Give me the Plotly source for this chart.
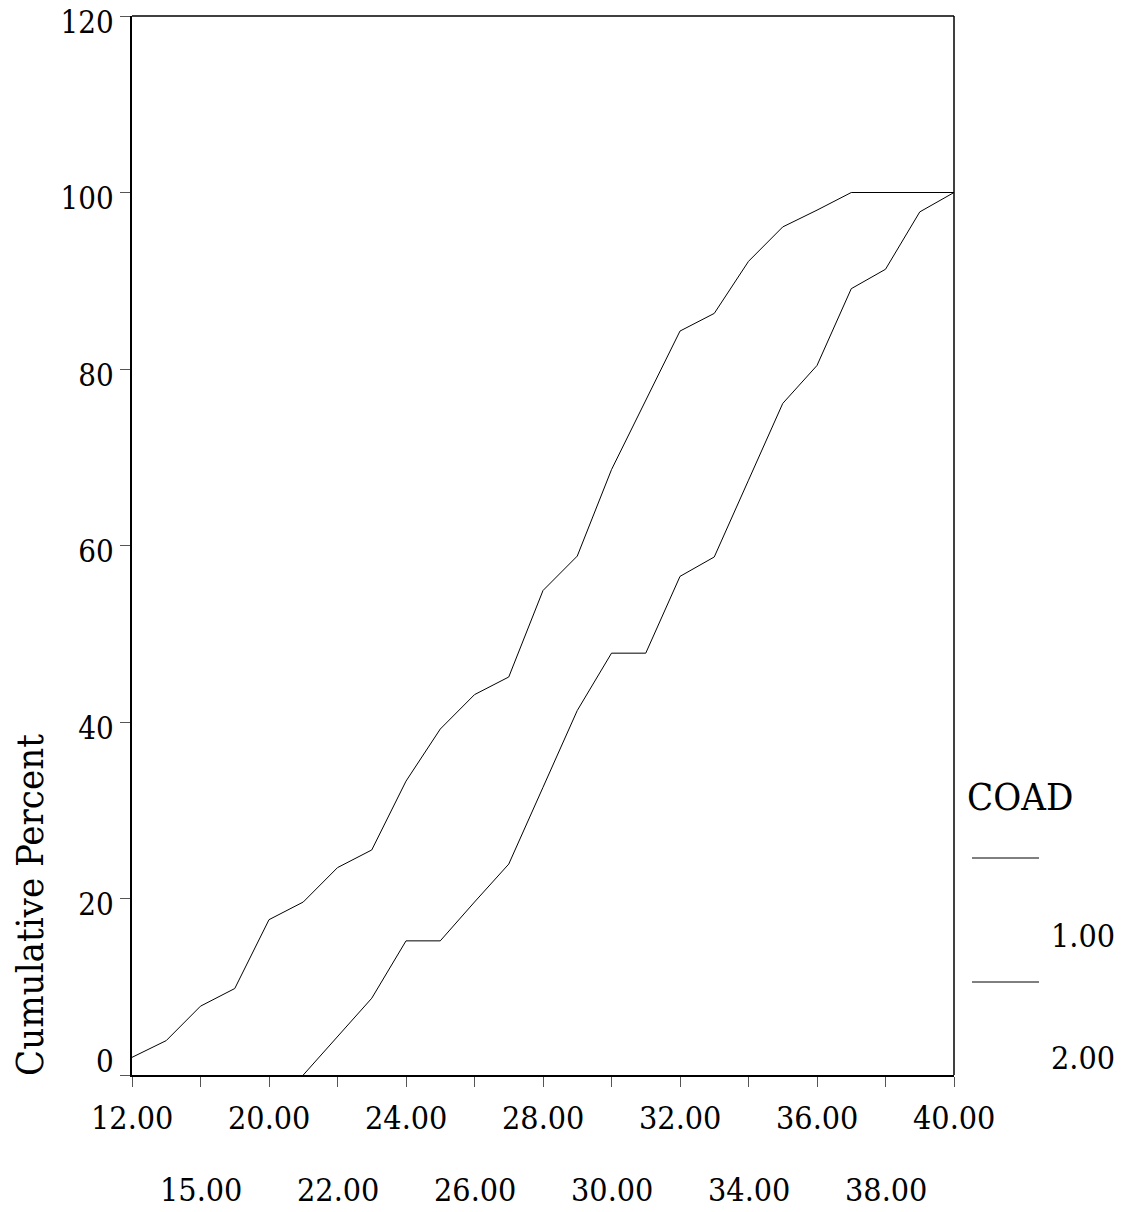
import plotly.graph_objects as go

# Age categories (COAD groups share the same x categories)
categories = ["12.00", "13.00", "15.00", "18.00", "20.00", "21.00", "22.00", "23.00",
              "24.00", "25.00", "26.00", "27.00", "28.00", "29.00", "30.00", "31.00",
              "32.00", "33.00", "34.00", "35.00", "36.00", "37.00", "38.00", "39.00",
              "40.00"]

# Cumulative percent per category for each COAD group
coad_1 = [2.0, 3.9, 7.8, 9.8, 17.6, 19.6, 23.5, 25.5, 33.3, 39.2, 43.1, 45.1, 54.9,
          58.8, 68.6, 76.5, 84.3, 86.3, 92.2, 96.1, 98.0, 100.0, 100.0, 100.0, 100.0]
coad_2 = [None, None, None, None, None, 0.0, 4.3, 8.7, 15.2, 15.2, 19.6, 23.9, 32.6,
          41.3, 47.8, 47.8, 56.5, 58.7, 67.4, 76.1, 80.4, 89.1, 91.3, 97.8, 100.0]

# Labelled categories, staggered on two rows
labels_row1 = ["12.00", "20.00", "24.00", "28.00", "32.00", "36.00", "40.00"]
labels_row2 = ["15.00", "22.00", "26.00", "30.00", "34.00", "38.00"]

y_ticks = [0, 20, 40, 60, 80, 100, 120]
y_ticktext = ["0<br> ", "20", "40", "60", "80", "100", "120"]

legend_title = "COAD"
legend_labels = ["1.00", "2.00"]

FONT = "DejaVu Serif Condensed, DejaVu Serif, serif"
W, H = 1132, 1212
L, R, T, B = 132, 954, 16, 1075
PW, PH = R - L, B - T


def px_x(px):
    return (px - L) / PW


def px_y(py):
    return (B - py) / PH


fig = go.Figure()
for vals in (coad_1, coad_2):
    fig.add_trace(go.Scatter(x=categories, y=vals, mode="lines",
                             line=dict(color="black", width=1),
                             showlegend=False, hoverinfo="skip"))

fig.update_layout(
    width=W, height=H,
    margin=dict(l=L, r=W - R, t=T, b=H - B, pad=0, autoexpand=False),
    paper_bgcolor="white", plot_bgcolor="white",
    font=dict(family=FONT, color="black", size=32),
    xaxis=dict(type="category", categoryorder="array", categoryarray=categories,
               range=[0, len(categories) - 1], showgrid=False, zeroline=False,
               showline=True, linecolor="black", linewidth=2,
               ticks="outside", ticklen=10, tickwidth=1, tickcolor="#555",
               tickvals=labels_row1 + labels_row2, showticklabels=False,
               automargin=False),
    yaxis=dict(range=[0, 120], tickvals=y_ticks, ticktext=y_ticktext,
               showgrid=False, zeroline=False, showline=True, linecolor="black",
               linewidth=2, ticks="outside", ticklen=10, tickwidth=1,
               tickcolor="#555", tickfont=dict(size=31),
               ticklabeloverflow="allow", ticklabelshift=6, automargin=False),
)

# top and right frame
fig.add_shape(type="line", xref="paper", yref="paper", x0=0, x1=1, y0=1, y1=1,
              line=dict(color="black", width=1.5))
fig.add_shape(type="line", xref="paper", yref="paper", x0=1, x1=1, y0=0, y1=1,
              line=dict(color="black", width=1.5))

# staggered x tick labels, placed at the category positions
for row, shift in ((labels_row1, -43), (labels_row2, -115)):
    for lab in row:
        fig.add_annotation(x=categories.index(lab), xref="x", y=0, yref="paper",
                           text=lab, showarrow=False, yanchor="middle",
                           xanchor="center", yshift=shift, font=dict(size=32))

# y axis title
fig.add_annotation(x=0, xref="paper", xshift=-102, y=0, yref="paper", yshift=-3,
                   text="Cumulative Percent", textangle=-90, showarrow=False,
                   xanchor="center", yanchor="bottom", font=dict(size=38))

# legend
fig.add_annotation(x=px_x(965), xref="paper", y=px_y(797), yref="paper",
                   text=legend_title, showarrow=False, xanchor="left",
                   yanchor="middle", font=dict(size=38))
for ly, ty, lab in zip((858, 982), (936, 1058), legend_labels):
    fig.add_shape(type="line", xref="paper", yref="paper",
                  x0=px_x(972), x1=px_x(1039), y0=px_y(ly), y1=px_y(ly),
                  line=dict(color="black", width=1))
    fig.add_annotation(x=px_x(1117), xref="paper", y=px_y(ty), yref="paper",
                       text=lab, showarrow=False, xanchor="right",
                       yanchor="middle", font=dict(size=32))

fig.write_html("out.html")
